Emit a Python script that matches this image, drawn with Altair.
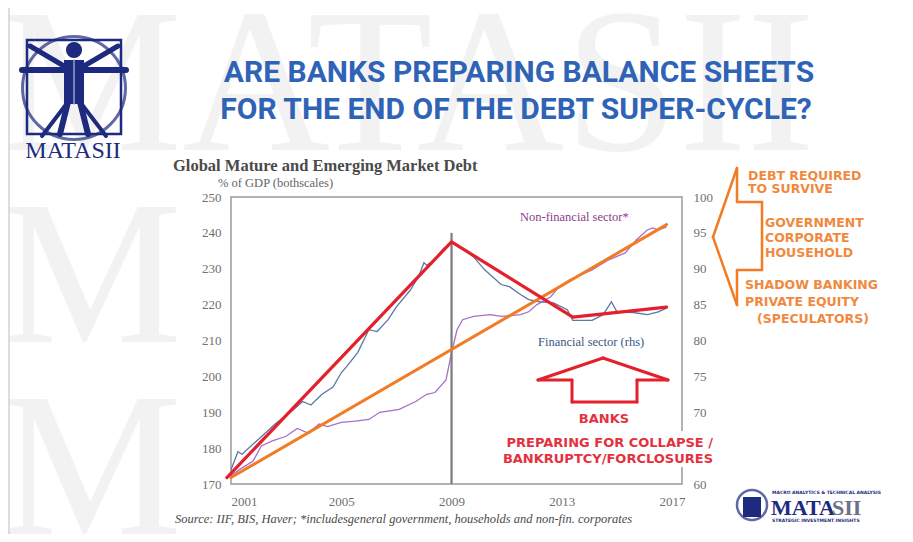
import altair as alt
import pandas as pd

# ---------------- data ----------------
# Financial sector (% of GDP, right-hand scale)
fin_years = [2001.0, 2001.25, 2001.4, 2002.0, 2002.6, 2003.2, 2003.6, 2003.9, 2004.3,
             2004.7, 2005.0, 2005.2, 2005.6, 2006.0, 2006.3, 2006.7, 2007.0, 2007.5,
             2007.8, 2008.0, 2008.1, 2008.4, 2008.7, 2009.0, 2009.4, 2009.8, 2010.2,
             2010.8, 2011.1, 2011.5, 2011.8, 2012.2, 2012.7, 2013.2, 2013.4, 2014.1,
             2014.5, 2014.8, 2015.0, 2015.6, 2016.1, 2016.5, 2016.8]
fin_values = [62.0, 64.5, 64.15, 66.25, 68.35, 70.15, 71.5, 71.0, 72.5,
              73.5, 75.5, 76.4, 78.35, 81.5, 81.25, 82.9, 84.7, 87.0,
              88.9, 90.85, 90.5, 91.3, 92.8, 93.7, 92.8, 91.65, 89.85,
              87.8, 87.5, 86.4, 85.7, 85.4, 85.25, 84.3, 82.8, 82.8,
              83.6, 85.4, 84.0, 83.9, 83.6, 84.0, 84.5]

# Non-financial sector* (% of GDP, left-hand scale)
nonfin_years = [2001.0, 2001.3, 2001.8, 2002.1, 2002.5, 2003.0, 2003.4, 2003.8, 2004.2,
                2004.5, 2005.0, 2005.5, 2006.0, 2006.4, 2007.1, 2007.7, 2008.1, 2008.4,
                2008.8, 2009.0, 2009.2, 2009.4, 2009.8, 2010.4, 2010.8, 2011.5, 2011.8,
                2012.1, 2012.6, 2012.9, 2013.3, 2014.1, 2014.7, 2015.3, 2015.7, 2016.1,
                2016.3, 2016.5, 2016.8]
nonfin_values = [172.2, 174.0, 176.4, 180.6, 182.0, 183.3, 185.5, 184.2, 186.7,
                 186.0, 187.2, 187.5, 188.0, 190.0, 190.8, 193.0, 195.0, 195.5,
                 199.0, 206.6, 213.0, 215.8, 216.7, 217.2, 216.7, 217.2, 218.0,
                 220.0, 222.2, 225.0, 227.0, 229.7, 232.5, 234.4, 238.0, 240.8,
                 241.4, 240.8, 241.7]

# Hand-drawn trend lines (left-hand scale)
red_years = [2000.85, 2009.0, 2013.4, 2016.8]
red_values = [171.8, 237.5, 216.5, 219.3]
orange_years = [2001.0, 2016.8]
orange_values = [171.8, 242.3]

# 2009 marker
marker_year = [2009]
marker_low = [170]
marker_high = [240]

x_ticks = [2001, 2005, 2009, 2013, 2017]
left_ticks = [170, 180, 190, 200, 210, 220, 230, 240, 250]
right_ticks = [60, 65, 70, 75, 80, 85, 90, 95, 100]

# ---------------- layout helpers ----------------
OX, OY = 231, 197          # page position of plot origin
W, H = 451, 287


def P(x):
    return x - OX


def Q(y):
    return y - OY


ONE = alt.Data(values=[{"k": 1}])
NAVY = "#1d2a7e"
RED = "#e3202c"
ORANGE = "#f27c24"
SERIF = "Liberation Serif, DejaVu Serif, serif"
SANSB = "DejaVu Sans, Verdana, sans-serif"
AXCOL = "#6f6f6f"


def txt(t, x, y, size, color, font, weight="normal", align="left", style="normal", opacity=1):
    return alt.Chart(ONE).mark_text(
        text=t, fontSize=size, color=color, font=font, fontWeight=weight,
        align=align, baseline="alphabetic", fontStyle=style, opacity=opacity
    ).encode(x=alt.value(P(x)), y=alt.value(Q(y)))


def seg(x1, y1, x2, y2, color, width):
    return alt.Chart(ONE).mark_rule(color=color, strokeWidth=width, strokeCap="round").encode(
        x=alt.value(P(x1)), y=alt.value(Q(y1)), x2=alt.value(P(x2)), y2=alt.value(Q(y2)))


def poly(points, color, width):
    out = []
    for (a, b), (c, d) in zip(points[:-1], points[1:]):
        out.append(seg(a, b, c, d, color, width))
    return out


def box(x1, y1, x2, y2, fill=None, stroke=None, sw=1, opacity=1):
    kw = dict(opacity=opacity)
    if fill is not None:
        kw["fill"] = fill
    else:
        kw["fillOpacity"] = 0
    if stroke is not None:
        kw["stroke"] = stroke
        kw["strokeWidth"] = sw
    return alt.Chart(ONE).mark_rect(**kw).encode(
        x=alt.value(P(x1)), y=alt.value(Q(y1)), x2=alt.value(P(x2)), y2=alt.value(Q(y2)))


layers = []

# ---------------- background: watermark and frames ----------------
layers.append(txt("MATASII", 0, 150, 205, "#f2f2f2", SERIF))
layers.append(txt("M", 0, 342, 205, "#f2f2f2", SERIF))
layers.append(txt("M", 0, 534, 205, "#f2f2f2", SERIF))
layers.append(box(9, 5, 906, 537, stroke="#d4d4d4", sw=1.5))
layers.append(box(231, 197, 682, 484, stroke="#9a9a9a", sw=1.5))

# ---------------- top-left logo ----------------
layers.append(alt.Chart(ONE).mark_point(shape="circle", size=10600, filled=False,
                                        color=NAVY, strokeWidth=3)
              .encode(x=alt.value(P(74)), y=alt.value(Q(88))))
layers.append(box(27, 40, 121, 134, stroke=NAVY, sw=2.5))
layers.append(alt.Chart(ONE).mark_point(shape="circle", size=260, filled=True,
                                        color=NAVY, opacity=1)
              .encode(x=alt.value(P(74)), y=alt.value(Q(50))))
layers.append(box(64, 60, 84, 104, fill=NAVY))
layers += [seg(22, 70, 126, 70, NAVY, 6), seg(30, 46, 64, 66, NAVY, 5),
           seg(118, 46, 84, 66, NAVY, 5), seg(68, 102, 60, 134, NAVY, 6),
           seg(80, 102, 88, 134, NAVY, 6), seg(68, 102, 42, 136, NAVY, 4),
           seg(80, 102, 106, 136, NAVY, 4), seg(74, 60, 74, 104, "#8fa0d0", 1.5)]
layers.append(txt("MATASII", 73, 158, 24, NAVY, SERIF, align="center"))

# ---------------- slide title ----------------
TFONT = "Roboto, Lato, sans-serif"
layers.append(txt("ARE BANKS PREPARING BALANCE SHEETS", 519, 82, 30, "#2f63b6", TFONT, "bold", "center"))
layers.append(txt("FOR THE END OF THE DEBT SUPER-CYCLE?", 516, 119, 30, "#2f63b6", TFONT, "bold", "center"))

# ---------------- chart titles ----------------
layers.append(txt("Global Mature and Emerging Market Debt", 173, 171, 16.5, "#4a4a4a", SERIF, "bold"))
layers.append(txt("% of GDP (bothscales)", 218, 187, 12.5, "#666666", SERIF))

# ---------------- data layers ----------------
xscale = alt.Scale(domain=[2001, 2017.36], nice=False, zero=False)
yl = alt.Scale(domain=[170, 250], nice=False, zero=False)
yr = alt.Scale(domain=[60, 100], nice=False, zero=False)

common_axis = dict(title=None, ticks=False, grid=False, domain=False,
                   labelFont=SERIF, labelFontSize=13, labelColor=AXCOL)
xaxis = alt.Axis(values=x_ticks, format="d", labelPadding=11, orient="bottom", zindex=2, **common_axis)
left_axis = alt.Axis(values=left_ticks, labelPadding=10, orient="left", zindex=2, **common_axis)
right_axis = alt.Axis(values=right_ticks, labelPadding=11, orient="right", zindex=0, **common_axis)

nonfin_df = pd.DataFrame({"year": nonfin_years, "value": nonfin_values})
fin_df = pd.DataFrame({"year": fin_years, "value": fin_values})
red_df = pd.DataFrame({"year": red_years, "value": red_values})
orange_df = pd.DataFrame({"year": orange_years, "value": orange_values})
marker_df = pd.DataFrame({"year": marker_year, "lo": marker_low, "hi": marker_high})

bottom_group = alt.layer(
    alt.Chart(nonfin_df).mark_line(color="#a66fc9", strokeWidth=1.3).encode(
        x=alt.X("year:Q", scale=xscale, axis=xaxis),
        y=alt.Y("value:Q", scale=yl, axis=left_axis)),
    alt.Chart(marker_df).mark_rule(color="#7a7a7a", strokeWidth=2.2).encode(
        x=alt.X("year:Q", scale=xscale, axis=xaxis),
        y=alt.Y("lo:Q", scale=yl, axis=left_axis), y2="hi:Q"),
)
fin_group = alt.Chart(fin_df).mark_line(color="#5878a4", strokeWidth=1.3).encode(
    x=alt.X("year:Q", scale=xscale, axis=xaxis),
    y=alt.Y("value:Q", scale=yr, axis=right_axis))
top_group = alt.layer(
    alt.Chart(orange_df).mark_line(color=ORANGE, strokeWidth=3, strokeCap="round").encode(
        x=alt.X("year:Q", scale=xscale, axis=xaxis),
        y=alt.Y("value:Q", scale=yl, axis=None)),
    alt.Chart(red_df).mark_line(color=RED, strokeWidth=3.2, strokeCap="round",
                                strokeJoin="round").encode(
        x=alt.X("year:Q", scale=xscale, axis=xaxis),
        y=alt.Y("value:Q", scale=yl, axis=None)),
)
layers += [bottom_group, fin_group, top_group]

# ---------------- series labels ----------------
layers.append(txt("Non-financial sector*", 520, 221, 12.5, "#8a3a8e", SERIF))
layers.append(txt("Financial sector (rhs)", 538, 346, 12.5, "#3b5583", SERIF))

# ---------------- red annotation (white text box hides frame & a label) ----------------
layers.append(box(497, 431, 717, 467, fill="white"))
layers += poly([(538, 380), (603, 358), (668, 380), (637, 380), (637, 402),
                (572, 402), (572, 380), (538, 380)], RED, 3)
layers.append(txt("BANKS", 604, 423, 13, "#e3323e", SANSB, "bold", "center"))
layers.append(txt("PREPARING FOR COLLAPSE /", 713, 447, 13, "#e3323e", SANSB, "bold", "right"))
layers.append(txt("BANKRUPTCY/FORCLOSURES", 713, 463, 13, "#e3323e", SANSB, "bold", "right"))

# ---------------- orange annotation ----------------
layers += poly([(737, 168), (713, 237), (737, 305), (737, 270), (762, 270),
                (762, 202), (737, 202), (737, 168)], ORANGE, 2.5)
OC = "#f0893e"
for t, x, y in [("DEBT REQUIRED", 748, 180), ("TO SURVIVE", 748, 193),
                ("GOVERNMENT", 765, 227), ("CORPORATE", 765, 242), ("HOUSEHOLD", 765, 257),
                ("SHADOW BANKING", 745, 289), ("PRIVATE EQUITY", 745, 306),
                ("(SPECULATORS)", 757, 323)]:
    layers.append(txt(t, x, y, 12.5, OC, SANSB, "bold"))

# ---------------- source ----------------
layers.append(txt("Source: IIF, BIS, Haver; *includesgeneral government, households and non-fin. corporates",
                  175, 523, 12.5, "#4a4a4a", SERIF, style="italic"))

# ---------------- bottom-right logo ----------------
layers.append(alt.Chart(ONE).mark_point(shape="circle", size=900, filled=False,
                                        color=NAVY, strokeWidth=2.5)
              .encode(x=alt.value(P(752)), y=alt.value(Q(505))))
layers.append(box(743, 497, 761, 517, fill=NAVY))
layers.append(txt("MATA", 771, 515, 22, NAVY, SERIF, "bold"))
layers.append(txt("SII", 832, 515, 22, "#6f6f8c", SERIF, "bold"))
layers.append(txt("MACRO ANALYTICS & TECHNICAL ANALYSIS", 772, 494, 4.5, NAVY, SANSB, "bold"))
layers.append(txt("STRATEGIC INVESTMENT INSIGHTS", 772, 522, 4.5, NAVY, SANSB, "bold"))

chart = alt.layer(*layers).resolve_scale(y="independent").properties(
    width=W, height=H,
    padding={"left": 223, "top": 189, "right": 223, "bottom": 50},
    autosize=alt.AutoSizeParams(type="none"),
    background="white",
).configure_view(strokeWidth=0)

chart.save("out.html", embed_options={"renderer": "svg", "actions": False})
